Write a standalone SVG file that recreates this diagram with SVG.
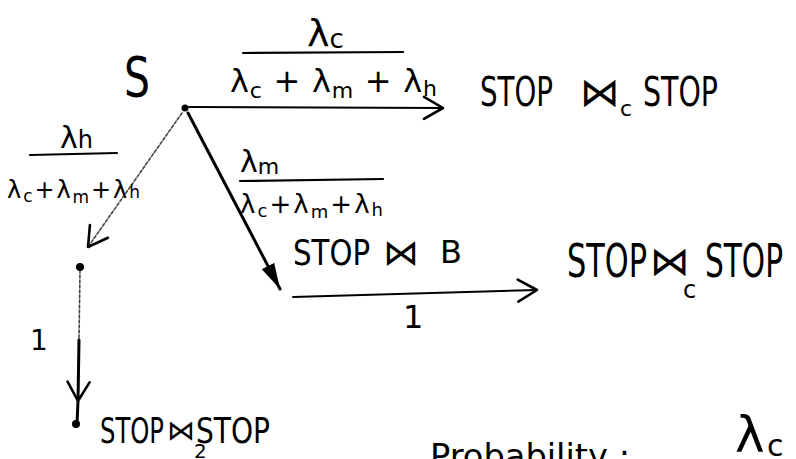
<svg xmlns="http://www.w3.org/2000/svg" width="796" height="459" viewBox="0 0 796 459">
<defs>
<style>
text{font-family:"DejaVu Sans","Liberation Sans",sans-serif;fill:#000}
.ln{fill:none;stroke:#000;stroke-width:2;stroke-linecap:round}
.thick{stroke-width:3}
.faint{stroke:#444;stroke-width:1.6;stroke-dasharray:3 2}
.bar{fill:none;stroke:#000;stroke-width:2.2;stroke-linecap:round}
.dot{fill:#000}
</style>
<marker id="chev" markerUnits="userSpaceOnUse" viewBox="0 0 30 26" markerWidth="30" markerHeight="26" refX="22" refY="13" orient="auto">
<path d="M3,2 L22,13 L3,24" fill="none" stroke="#000" stroke-width="2.6" stroke-linecap="round" stroke-linejoin="round"/>
</marker>
<marker id="tri" markerUnits="userSpaceOnUse" viewBox="0 0 28 20" markerWidth="28" markerHeight="20" refX="26" refY="10" orient="auto">
<path d="M0,3 L26,10 L0,17 Z" fill="#000"/>
</marker>
</defs>

<g id="connectors">
<path id="e-s-c" class="ln" d="M189,107 L443,108" marker-end="url(#chev)"/>
<path id="e-s-m" class="ln thick" d="M188,113 L280,289" marker-end="url(#tri)"/>
<path id="e-s-h" class="ln faint" d="M182,113 L88,247" marker-end="url(#chev)"/>
<path id="e-b-c" class="ln" d="M293,297 L537,290" marker-end="url(#chev)"/>
<g id="e-h-2">
<path class="ln faint" d="M80,270 L79,340"/>
<path class="ln thick" d="M79,340 L78,401 L77,424" marker-mid="url(#chev)"/>
</g>

<g id="label-c">
<text x="307" y="46" font-size="38">λ<tspan font-size="26" dy="2">c</tspan></text>
<path class="bar" d="M243,53 L403,52"/>
<text x="230" y="92" font-size="32" textLength="207" lengthAdjust="spacing">λ<tspan font-size="22" dy="6">c</tspan><tspan dy="-6"> + λ</tspan><tspan font-size="22" dy="6">m</tspan><tspan dy="-6"> + λ</tspan><tspan font-size="22" dy="4">h</tspan></text>
</g>
<g id="label-m">
<text x="240" y="172" font-size="30">λ<tspan font-size="22" dy="2">m</tspan></text>
<path class="bar" d="M240,181 L383,179"/>
<text x="240" y="213" font-size="26" textLength="143" lengthAdjust="spacing">λ<tspan font-size="18" dy="4">c</tspan><tspan dy="-4">+λ</tspan><tspan font-size="18" dy="5">m</tspan><tspan dy="-5">+λ</tspan><tspan font-size="18" dy="3">h</tspan></text>
</g>
<g id="label-h">
<text x="60" y="148" font-size="30">λ<tspan font-size="24">h</tspan></text>
<path class="bar" d="M30,155 L117,153"/>
<text x="7" y="198" font-size="24" textLength="133" lengthAdjust="spacing">λ<tspan font-size="17" dy="4">c</tspan><tspan dy="-4">+λ</tspan><tspan font-size="17" dy="5">m</tspan><tspan dy="-5">+λ</tspan><tspan font-size="17">h</tspan></text>
</g>
<text id="label-1a" x="403" y="328" font-size="32">1</text>
<text id="label-1b" x="30" y="350" font-size="28">1</text>
</g>

<g id="node-s">
<circle class="dot" cx="185" cy="108" r="3.5"/>
<text x="124" y="96" font-size="56" textLength="26" lengthAdjust="spacingAndGlyphs">S</text>
</g>

<g id="node-top">
<text x="480" y="106" font-size="40" textLength="73" lengthAdjust="spacingAndGlyphs">STOP</text>
<text x="580" y="106" font-size="40">⋈</text>
<text x="620" y="116" font-size="22">c</text>
<text x="643" y="106" font-size="40" textLength="75" lengthAdjust="spacingAndGlyphs">STOP</text>
</g>

<g id="node-b">
<text x="293" y="265" font-size="36" textLength="77" lengthAdjust="spacingAndGlyphs">STOP</text>
<text x="383" y="265" font-size="36">⋈</text>
<text x="440" y="263" font-size="32">B</text>
</g>

<g id="node-right">
<text x="567" y="277" font-size="46" textLength="80" lengthAdjust="spacingAndGlyphs">STOP</text>
<text x="650" y="275" font-size="40">⋈</text>
<text x="705" y="277" font-size="46" textLength="78" lengthAdjust="spacingAndGlyphs">STOP</text>
<text x="683" y="298" font-size="24">c</text>
</g>

<g id="node-h">
<circle class="dot" cx="80" cy="267" r="4"/>
</g>

<g id="node-bottom">
<circle class="dot" cx="76" cy="424" r="4"/>
<text x="100" y="443" font-size="36" textLength="64" lengthAdjust="spacingAndGlyphs">STOP</text>
<text x="167" y="440" font-size="28">⋈</text>
<text x="196" y="443" font-size="36" textLength="74" lengthAdjust="spacingAndGlyphs">STOP</text>
<text x="194" y="458" font-size="20">2</text>
</g>

<g id="note">
<text x="430" y="468" font-size="34" textLength="200" lengthAdjust="spacingAndGlyphs">Probability :</text>
<text x="735" y="452" font-size="50">λ</text>
<text x="767" y="456" font-size="30">c</text>
</g>
</svg>
